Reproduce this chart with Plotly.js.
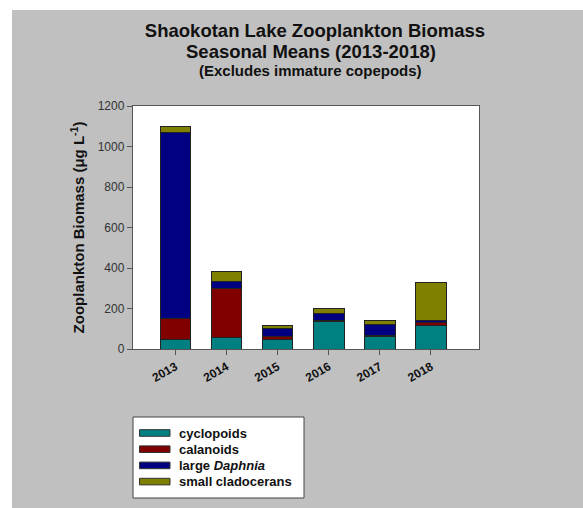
<!DOCTYPE html>
<html>
<head>
<meta charset="utf-8">
<script src="https://cdn.plot.ly/plotly-3.0.1.min.js"></script>
<style>
html,body{margin:0;padding:0;background:#ffffff;width:583px;height:508px;overflow:hidden;}
#chart{position:absolute;left:12px;top:10px;width:571px;height:498px;}
</style>
</head>
<body>
<div id="chart"></div>
<script>
// ---- data ----
const years = ['2013', '2014', '2015', '2016', '2017', '2018'];
const cyclopoids = [46, 57, 46, 137, 62, 118];
const calanoids = [106, 240, 15, 2, 6, 12];
const largeDaphnia = [915, 34, 39, 36, 53, 10];
const smallCladocerans = [31, 50, 16, 25, 18, 186];
const seriesNames = ['cyclopoids', 'calanoids', 'large <i>Daphnia</i>', 'small cladocerans'];
const seriesColors = ['#008080', '#800000', '#000080', '#808000'];
const yTicks = [0, 200, 400, 600, 800, 1000, 1200];

const FONT = 'Liberation Sans, Arial, sans-serif';
const seriesValues = [cyclopoids, calanoids, largeDaphnia, smallCladocerans];

const traces = seriesValues.map((vals, i) => ({
  type: 'bar',
  name: seriesNames[i],
  x: years,
  y: vals,
  width: 0.6,
  marker: {color: seriesColors[i], line: {color: '#222222', width: 1}},
  showlegend: false,
  hoverinfo: 'x+y+name'
}));

// page-pixel -> paper helpers (plot area page box: x 133..479, y 106..349)
const PX0 = 133, PX1 = 479, PY0 = 106, PY1 = 349;
const px = v => (v - PX0) / (PX1 - PX0);
const py = v => (PY1 - v) / (PY1 - PY0);

const shapes = [];
const annotations = [];

// legend box
shapes.push({type: 'rect', xref: 'paper', yref: 'paper',
  x0: px(133), x1: px(304), y0: py(498), y1: py(417),
  fillcolor: '#ffffff', line: {color: '#444444', width: 1}, layer: 'above'});
seriesNames.forEach((n, i) => {
  const cy = 433 + i * 16.2;
  shapes.push({type: 'rect', xref: 'paper', yref: 'paper',
    x0: px(139.5), x1: px(170), y0: py(cy + 3.3), y1: py(cy - 3.3),
    fillcolor: seriesColors[i], line: {color: '#333333', width: 1}, layer: 'above'});
  annotations.push({xref: 'paper', yref: 'paper', x: px(177), y: py(cy),
    xanchor: 'left', yanchor: 'middle', showarrow: false, text: '<b>' + n + '</b>',
    font: {family: FONT, size: 13, color: '#111111'}});
});

// subtitle lines
annotations.push({xref: 'paper', yref: 'paper', x: px(311), y: py(51), xanchor: 'center', yanchor: 'middle',
  showarrow: false, text: '<b>Seasonal Means (2013-2018)</b>', font: {family: FONT, size: 18.5, color: '#111111'}});
annotations.push({xref: 'paper', yref: 'paper', x: px(310), y: py(70), xanchor: 'center', yanchor: 'middle',
  showarrow: false, text: '<b>(Excludes immature copepods)</b>', font: {family: FONT, size: 15, color: '#111111'}});

const layout = {
  width: 571, height: 498,
  paper_bgcolor: '#c0c0c0',
  plot_bgcolor: '#ffffff',
  margin: {l: PX0 - 12, r: 571 - (PX1 - 12), t: PY0 - 10, b: 498 - (PY1 - 10), pad: 0},
  barmode: 'stack',
  showlegend: false,
  title: {
    text: '<b>Shaokotan Lake Zooplankton Biomass</b>',
    xref: 'container', yref: 'container', x: (315 - 12) / 571, y: 1 - (30.5 - 10) / 498,
    xanchor: 'center', yanchor: 'middle',
    font: {family: FONT, size: 18.5, color: '#111111'}
  },
  xaxis: {
    type: 'category',
    range: [-0.83, 5.94],
    showline: true, mirror: true, linecolor: '#555555', linewidth: 1.2,
    ticks: 'outside', ticklen: 5, tickcolor: '#555555', tickwidth: 1,
    tickangle: -30,
    tickfont: {family: FONT, size: 12, color: '#111111', weight: 'bold'},
    showgrid: false, zeroline: false, fixedrange: true
  },
  yaxis: {
    range: [0, 1200],
    tickmode: 'array', tickvals: yTicks, ticktext: yTicks.map(String),
    showline: true, mirror: true, linecolor: '#555555', linewidth: 1.2,
    ticks: 'outside', ticklen: 5, tickcolor: '#555555', tickwidth: 1,
    tickfont: {family: FONT, size: 12, color: '#333333'},
    showgrid: false, zeroline: false, fixedrange: true,
    title: {text: '<b>Zooplankton Biomass (μg L<sup>-1</sup>)</b>', standoff: 9,
      font: {family: FONT, size: 15, color: '#111111'}}
  },
  shapes: shapes,
  annotations: annotations
};

Plotly.newPlot('chart', traces, layout, {displayModeBar: false, staticPlot: true});
</script>
</body>
</html>
